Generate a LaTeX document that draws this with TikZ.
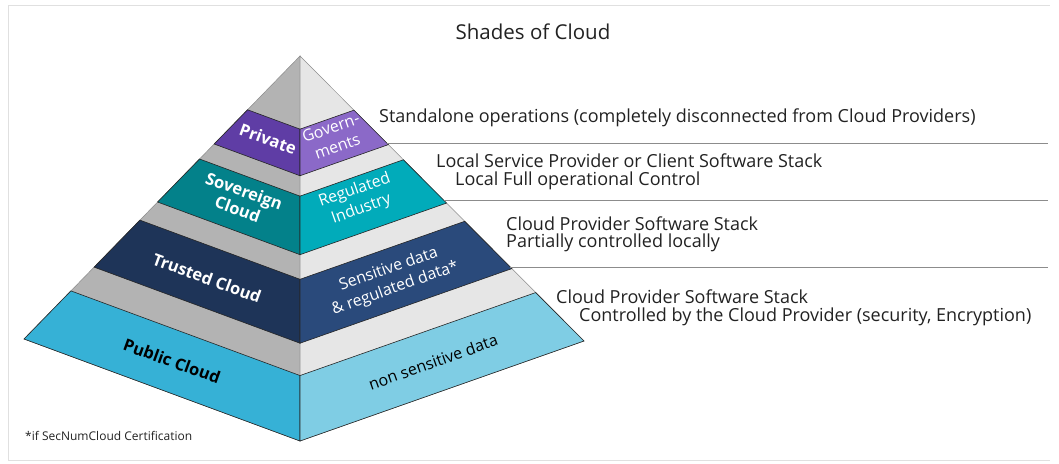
\documentclass[tikz,border=0pt]{standalone}
\usepackage{fontspec}
\setmainfont{Open Sans}
\usepackage{tikz}
\usetikzlibrary{calc}
\definecolor{cGrayL}{HTML}{B3B3B3}
\definecolor{cGrayR}{HTML}{E6E6E6}
\definecolor{cPrivL}{HTML}{5F3DA5}
\definecolor{cPrivR}{HTML}{8B69C8}
\definecolor{cSovL}{HTML}{03818A}
\definecolor{cSovR}{HTML}{01ABBA}
\definecolor{cTrustL}{HTML}{1E3458}
\definecolor{cTrustR}{HTML}{2A4A7B}
\definecolor{cPubL}{HTML}{36B1D6}
\definecolor{cPubR}{HTML}{7FCDE4}
\definecolor{cText}{HTML}{222222}

\begin{document}
\begin{tikzpicture}[x=1pt, y=-1pt,
    face/.style={draw=black!45, line width=0.5pt},
    band/.style={draw=black!85, line width=0.6pt},
    lefttag/.style={text=white, font=\fontsize{16.5}{19}\selectfont\bfseries, align=center, rotate=-20, inner sep=1pt},
    righttag/.style={text=white, font=\fontsize{16}{20}\selectfont, align=center, rotate=19.5, inner sep=1pt},
    note/.style={anchor=west, text=cText, font=\fontsize{18}{20}\selectfont, inner sep=1pt},
    sep/.style={draw=black!45, line width=0.8pt}]
    \useasboundingbox (0,0) rectangle (1059,463);
    \draw[black!12, line width=1pt] (1050,5) -- (8,5) -- (8,460) -- (1050,460);

    % pyramid corners
    \coordinate (apex) at (300,56);
    \coordinate (lft) at (24,339);
    \coordinate (bot) at (300,441);
    \coordinate (rgt) at (584,341);
    \coordinate (edge) at (1048,0);

    \filldraw[face, fill=cGrayL] (apex) -- (lft) -- (bot) -- cycle;
    \filldraw[face, fill=cGrayR] (apex) -- (bot) -- (rgt) -- cycle;

    % coloured bands
    \foreach \ta/\tb/\cl/\cr in {0.19/0.311/cPrivL/cPrivR, 0.364/0.516/cSovL/cSovR,
                                 0.58/0.746/cTrustL/cTrustR, 0.83/1/cPubL/cPubR} {
      \filldraw[band, fill=\cl] ($(apex)!\ta!(lft)$) -- ($(apex)!\ta!(bot)$) -- ($(apex)!\tb!(bot)$) -- ($(apex)!\tb!(lft)$) -- cycle;
      \filldraw[band, fill=\cr] ($(apex)!\ta!(bot)$) -- ($(apex)!\ta!(rgt)$) -- ($(apex)!\tb!(rgt)$) -- ($(apex)!\tb!(bot)$) -- cycle;
    }

    % separators
    \coordinate (s1) at ($(apex)!0.306!(rgt)$);
    \coordinate (s2) at ($(apex)!0.508!(rgt)$);
    \coordinate (s3) at ($(apex)!0.741!(rgt)$);
    \draw[sep] (s1) -- (s1 -| edge);
    \draw[sep] (s2) -- (s2 -| edge);
    \draw[sep] (s3) -- (s3 -| edge);

    % labels
    \node[text=cText, font=\fontsize{20.5}{22}\selectfont] (title) at (533,32) {Shades of Cloud};
    \node[lefttag] (priv) at (268,139) {Private};
    \node[lefttag] (sov) at (241,200) {Sovereign\\Cloud};
    \node[lefttag] (trust) at (207,278) {Trusted Cloud};
    \node[lefttag, text=black] (pub) at (172,361) {Public Cloud};
    \node[righttag] (gov) at (334,137) {Govern-\\ments};
    \node[righttag] (reg) at (358,200) {Regulated\\Industry};
    \node[righttag] (sens) at (392,279) {Sensitive data\\\& regulated data*};
    \node[righttag, text=black] (nonsens) at (433,362) {non sensitive data};

    \node[note] (d1) at (378,118) {Standalone operations (completely disconnected from Cloud Providers)};
    \node[note] (d2a) at (435,161) {Local Service Provider or Client Software Stack};
    \node[note] (d2b) at (454,181) {Local Full operational Control};
    \node[note] (d3a) at (505,224) {Cloud Provider Software Stack};
    \node[note] (d3b) at (505,243) {Partially controlled locally};
    \node[note] (d4a) at (555,297) {Cloud Provider Software Stack};
    \node[note] (d4b) at (578,317) {Controlled by the Cloud Provider (security, Encryption)};
    \node[anchor=west, text=cText, font=\fontsize{12}{14}\selectfont, inner sep=1pt] (foot) at (24,436) {*if SecNumCloud Certification};
\end{tikzpicture}
\end{document}
